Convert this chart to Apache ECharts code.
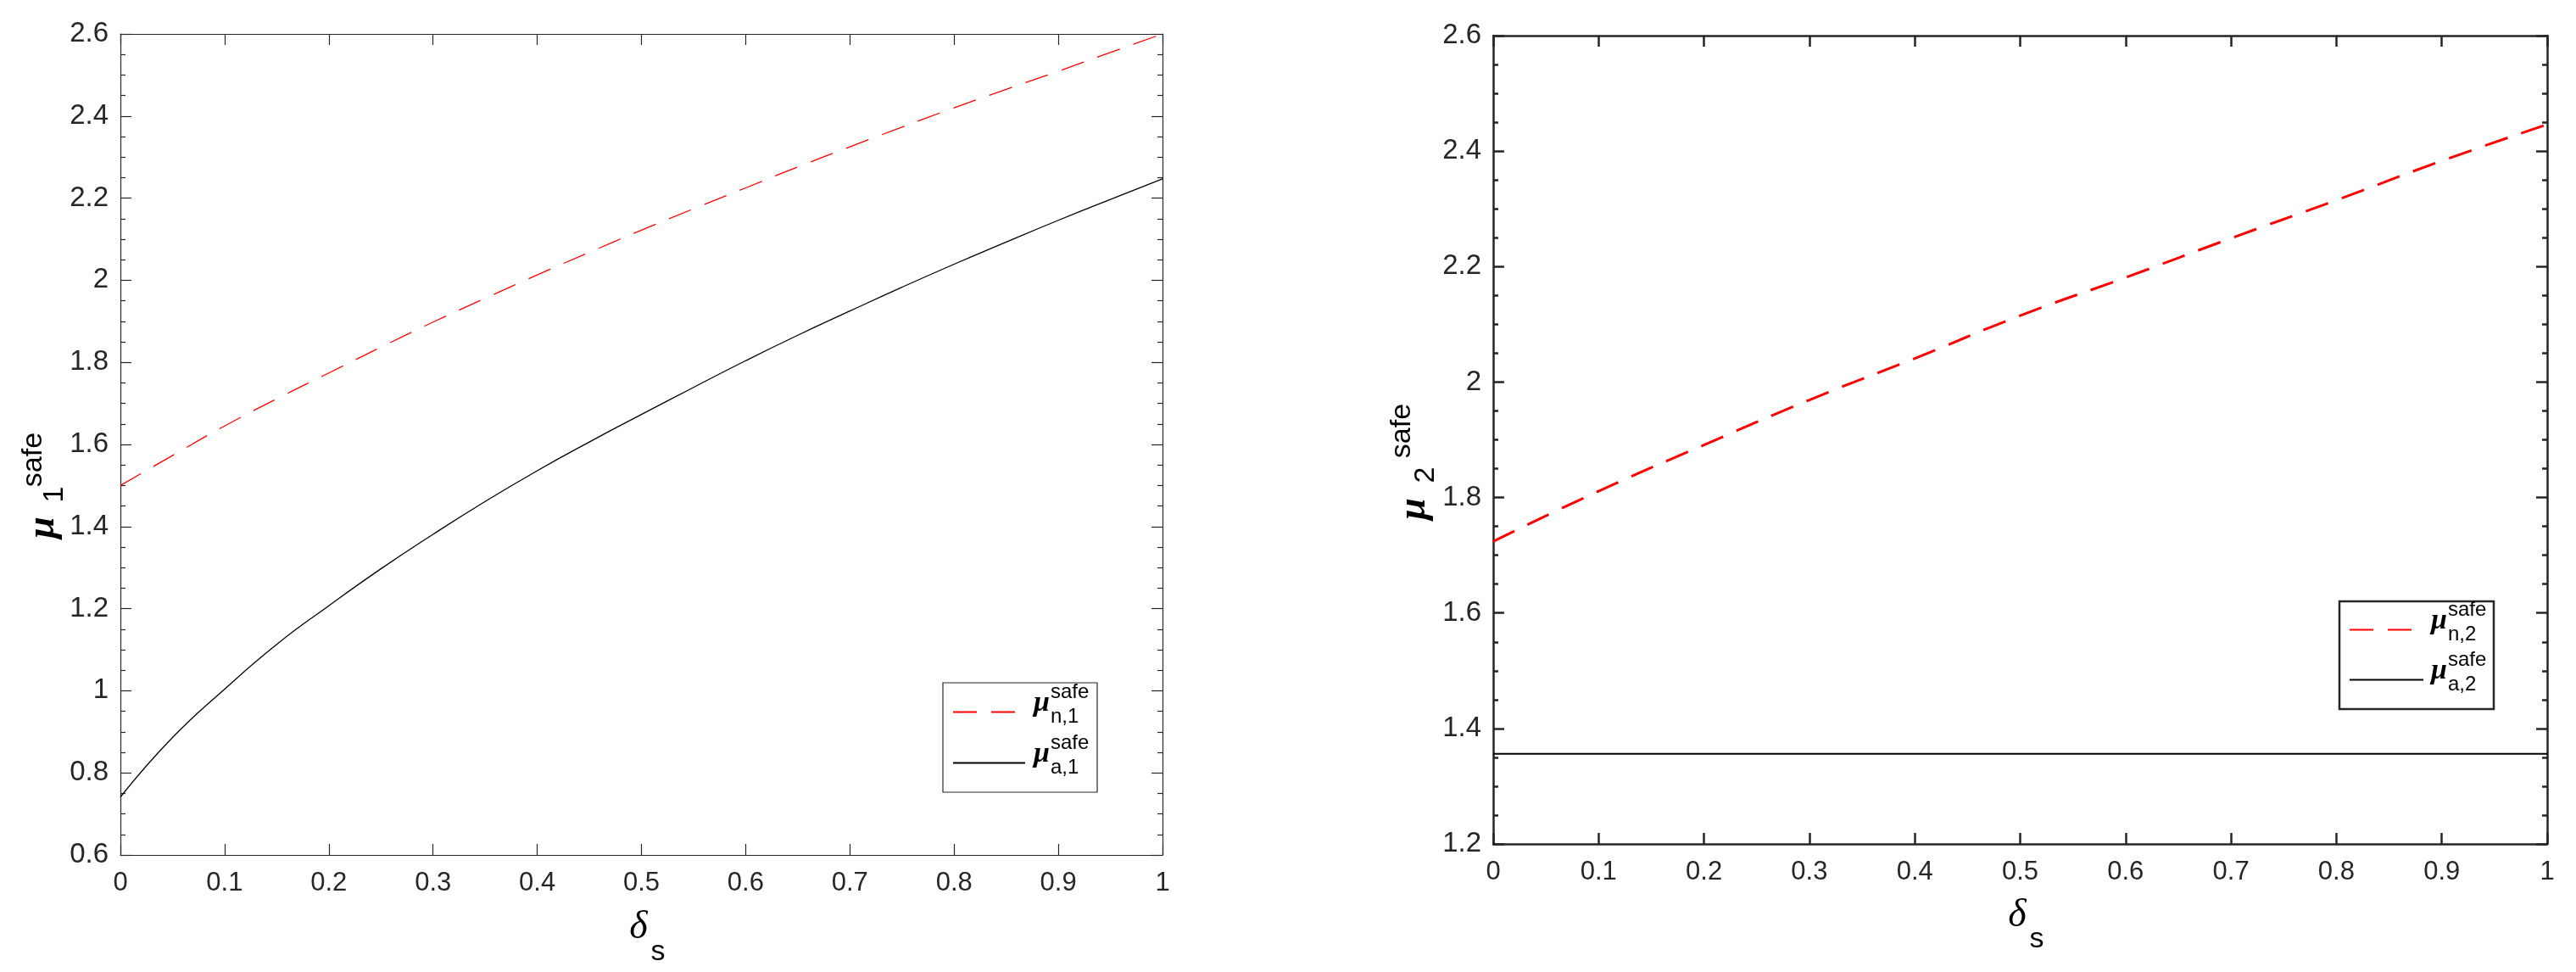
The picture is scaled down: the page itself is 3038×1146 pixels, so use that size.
<!DOCTYPE html>
<html>
<head>
<meta charset="utf-8">
<script src="https://cdn.jsdelivr.net/npm/echarts@6/dist/echarts.min.js"></script>
<style>
  html, body { margin: 0; padding: 0; background: #fff; }
  #chart { width: 3038px; height: 1146px; }
</style>
</head>
<body>
<div id="chart"></div>
<script>
// left panel: delta_s vs mu_1^safe
const xLeft = [0, 0.05, 0.1, 0.15, 0.2, 0.25, 0.3, 0.35, 0.4, 0.45, 0.5, 0.55, 0.6, 0.65, 0.7, 0.75, 0.8, 0.85, 0.9, 0.95, 1.0];
const muN1 = [1.5, 1.573, 1.645, 1.711, 1.774, 1.837, 1.898, 1.956, 2.013, 2.068, 2.122, 2.174, 2.225, 2.276, 2.325, 2.373, 2.42, 2.465, 2.509, 2.555, 2.6];
const muA1 = [0.741, 0.886, 1.004, 1.113, 1.207, 1.297, 1.381, 1.461, 1.536, 1.606, 1.673, 1.739, 1.804, 1.866, 1.925, 1.983, 2.039, 2.093, 2.146, 2.197, 2.247];

// right panel: delta_s vs mu_2^safe
const xRight = [0, 0.1, 0.2, 0.3, 0.4, 0.5, 0.6, 0.7, 0.8, 0.9, 1.0];
const muN2 = [1.724, 1.811, 1.891, 1.969, 2.041, 2.115, 2.181, 2.249, 2.315, 2.383, 2.446];
const xFlat = [0, 1];
const muA2 = [1.356, 1.356];

const xTicks = [0, 0.1, 0.2, 0.3, 0.4, 0.5, 0.6, 0.7, 0.8, 0.9, 1];
const yTicksLeft = [0.6, 0.8, 1, 1.2, 1.4, 1.6, 1.8, 2, 2.2, 2.4, 2.6];
const yTicksRight = [1.2, 1.4, 1.6, 1.8, 2, 2.2, 2.4, 2.6];

const legendSub = { n1: "n,1", a1: "a,1", n2: "n,2", a2: "a,2" };

const ink = "#262626";
const numFmt = (v) => String(Math.round(v * 10) / 10);
const zip = (xs, ys) => xs.map((x, i) => [x, ys[i]]);

function xAxisPair(gridIndex, w) {
  const base = {
    type: "value",
    gridIndex,
    min: xTicks[0],
    max: xTicks[xTicks.length - 1],
    interval: 0.1,
    axisLine: { show: true, onZero: false, lineStyle: { color: ink, width: w } },
    axisTick: { show: true, inside: true, length: 13, lineStyle: { color: ink, width: w } },
    splitLine: { show: false },
  };
  return [
    Object.assign({}, base, {
      position: "bottom",
      axisLabel: { fontSize: 31, color: ink, margin: 18, fontFamily: "Liberation Sans", formatter: numFmt },
    }),
    Object.assign({}, base, { position: "top", axisLabel: { show: false } }),
  ];
}

function yAxisPair(gridIndex, ticks, w) {
  const base = {
    type: "value",
    gridIndex,
    min: ticks[0],
    max: ticks[ticks.length - 1],
    interval: 0.2,
    axisLine: { show: true, onZero: false, lineStyle: { color: ink, width: w } },
    axisTick: { show: true, inside: true, length: 13, lineStyle: { color: ink, width: w } },
    minorTick: { show: true, splitNumber: 4, length: 6, lineStyle: { color: ink, width: w } },
    splitLine: { show: false },
    minorSplitLine: { show: false },
  };
  return [
    Object.assign({}, base, {
      position: "left",
      axisLabel: { fontSize: 33, color: ink, margin: 14, fontFamily: "Liberation Sans", formatter: numFmt },
    }),
    Object.assign({}, base, { position: "right", axisLabel: { show: false } }),
  ];
}

// legend keeps box + line samples; the stacked sub/superscript text is drawn on top
function makeLegend(names, left, top, bw, itemW, gap, pad, textW) {
  return {
    data: names,
    orient: "vertical",
    left,
    top,
    padding: pad,
    itemGap: gap,
    itemWidth: itemW,
    itemHeight: 20,
    borderColor: ink,
    borderWidth: bw,
    backgroundColor: "#fff",
    selectedMode: false,
    itemStyle: { opacity: 0, borderWidth: 0 },
    formatter: () => "{sp| }",
    textStyle: { rich: { sp: { width: textW, height: 43, lineHeight: 43, fontSize: 12 } } },
  };
}

function mathText(x, y, text, font, rot, align) {
  return {
    type: "text",
    x,
    y,
    z: 100,
    rotation: rot || 0,
    style: { text, font, fill: "#000", align: align || "center", verticalAlign: "middle" },
  };
}
const R = Math.PI / 2;
const muFont = "italic bold 46px 'Liberation Serif'";
const supFont = "34px 'Liberation Sans'";
const deltaFont = "italic 46px 'Liberation Serif'";
const legMu = "italic bold 34px 'Liberation Serif'";
const legSup = "24px 'Liberation Sans'";

function legendLabels(names, x0, c0, step) {
  const out = [];
  names.forEach((n, i) => {
    const c = c0 + i * step;
    out.push(mathText(x0, c + 1, "μ", legMu, 0, "left"));
    out.push(mathText(x0 + 20, c - 12, "safe", legSup, 0, "left"));
    out.push(mathText(x0 + 20, c + 17, legendSub[n], legSup, 0, "left"));
  });
  return out;
}

const chart = echarts.init(document.getElementById("chart"));
const option = {
  backgroundColor: "#fff",
  animation: false,
  grid: [
    { left: 142, top: 40, width: 1229, height: 968 },
    { left: 1761, top: 42, width: 1243, height: 953 },
  ],
  xAxis: [...xAxisPair(0, 1.2), ...xAxisPair(1, 2.5)],
  yAxis: [...yAxisPair(0, yTicksLeft, 1.2), ...yAxisPair(1, yTicksRight, 2.5)],
  legend: [
    makeLegend(["n1", "a1"], 1112, 805, 1.2, 85, 17, [13, 12, 13, 11], 68),
    makeLegend(["n2", "a2"], 2759, 709, 2.5, 87, 16, [12, 12, 13, 11], 66),
  ],
  graphic: [
    mathText(51, 622, "μ", muFont, R),
    mathText(65, 583, "1", supFont, R),
    mathText(40, 542, "safe", supFont, R),
    mathText(1668, 600, "μ", muFont, R),
    mathText(1682, 560, "2", supFont, R),
    mathText(1654, 508, "safe", supFont, R),
    mathText(753, 1094, "δ", deltaFont),
    mathText(776, 1123, "s", "34px 'Liberation Sans'"),
    mathText(2379, 1080, "δ", deltaFont),
    mathText(2402, 1108, "s", "34px 'Liberation Sans'"),
    ...legendLabels(["n1", "a1"], 1219, 828, 60),
    ...legendLabels(["n2", "a2"], 2867, 731, 59),
  ],
  series: [
    {
      name: "n1", type: "line", xAxisIndex: 0, yAxisIndex: 0,
      data: zip(xLeft, muN1), symbol: "none", smooth: true,
      color: "#ff0000", lineStyle: { color: "#ff0000", width: 1.3, type: [28, 17] },
    },
    {
      name: "a1", type: "line", xAxisIndex: 0, yAxisIndex: 0,
      data: zip(xLeft, muA1), symbol: "none", smooth: true,
      color: "#000", lineStyle: { color: "#000", width: 1.3 },
    },
    {
      name: "n2", type: "line", xAxisIndex: 2, yAxisIndex: 2,
      data: zip(xRight, muN2), symbol: "none", smooth: true,
      color: "#ff0000", lineStyle: { color: "#ff0000", width: 3, type: [28, 17] },
    },
    {
      name: "a2", type: "line", xAxisIndex: 2, yAxisIndex: 2,
      data: zip(xFlat, muA2), symbol: "none",
      color: "#000", lineStyle: { color: "#000", width: 2 },
    },
  ],
};
chart.setOption(option);
</script>
</body>
</html>
